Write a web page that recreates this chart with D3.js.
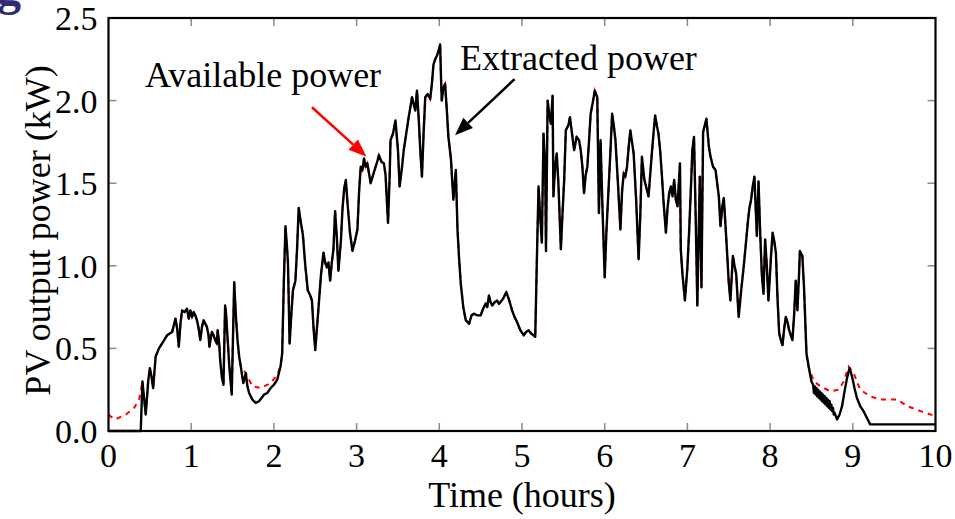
<!DOCTYPE html>
<html lang="en">
<head>
    <meta charset="UTF-8">
    <script src="https://d3js.org/d3.v7.min.js"></script>
    <title>PV output power</title>
    <style>
        body { margin: 0; background: white; }
        text { font-family: "Liberation Serif", "Times New Roman", serif; }
    </style>
</head>
<body>
<script>
    // extracted power (kW) vs time (hours)
    var extT = [0.00,0.39,0.41,0.43,0.45,0.48,0.50,0.52,0.54,0.57,0.61,0.66,0.71,0.74,0.77,0.79,0.81,0.83,0.85,0.87,
        0.89,0.92,0.95,0.97,0.99,1.01,1.03,1.05,1.07,1.09,1.11,1.13,1.15,1.17,1.19,1.21,1.22,1.25,1.27,1.29,
        1.31,1.32,1.34,1.35,1.37,1.39,1.41,1.42,1.44,1.46,1.49,1.52,1.54,1.56,1.58,1.60,1.62,1.63,1.66,1.68,
        1.70,1.74,1.78,1.82,1.88,1.92,1.96,2.00,2.04,2.08,2.10,2.12,2.14,2.16,2.17,2.19,2.21,2.23,2.26,2.28,
        2.30,2.32,2.35,2.38,2.41,2.44,2.46,2.48,2.50,2.52,2.54,2.57,2.60,2.62,2.64,2.66,2.68,2.70,2.72,2.74,
        2.76,2.78,2.81,2.83,2.85,2.87,2.89,2.92,2.95,2.98,3.01,3.03,3.05,3.07,3.09,3.11,3.13,3.15,3.17,3.20,
        3.23,3.25,3.27,3.30,3.33,3.35,3.38,3.40,3.41,3.44,3.47,3.50,3.52,3.55,3.57,3.60,3.63,3.65,3.67,3.69,
        3.71,3.73,3.75,3.77,3.79,3.81,3.83,3.86,3.89,3.91,3.93,3.95,3.97,3.99,4.01,4.02,4.03,4.05,4.07,4.09,
        4.11,4.14,4.17,4.20,4.22,4.24,4.26,4.29,4.32,4.34,4.36,4.39,4.42,4.46,4.50,4.53,4.56,4.58,4.60,4.62,
        4.64,4.67,4.70,4.72,4.74,4.77,4.81,4.84,4.88,4.91,4.94,4.98,5.02,5.05,5.08,5.11,5.14,5.16,5.18,5.20,
        5.22,5.24,5.26,5.28,5.29,5.31,5.33,5.35,5.37,5.38,5.40,5.42,5.44,5.47,5.49,5.51,5.53,5.56,5.58,5.60,
        5.63,5.66,5.69,5.71,5.73,5.75,5.77,5.79,5.81,5.83,5.86,5.88,5.91,5.93,5.95,5.97,6.00,6.02,6.04,6.07,
        6.09,6.11,6.13,6.16,6.19,6.21,6.23,6.25,6.27,6.29,6.31,6.33,6.35,6.38,6.41,6.43,6.45,6.48,6.50,6.53,
        6.55,6.57,6.59,6.61,6.63,6.65,6.67,6.69,6.71,6.74,6.76,6.78,6.80,6.82,6.84,6.86,6.88,6.91,6.92,6.94,
        6.97,7.00,7.02,7.04,7.06,7.08,7.10,7.12,7.15,7.17,7.19,7.21,7.23,7.26,7.28,7.31,7.34,7.36,7.38,7.40,
        7.42,7.44,7.46,7.48,7.50,7.52,7.55,7.57,7.59,7.62,7.65,7.68,7.71,7.73,7.75,7.77,7.79,7.81,7.84,7.86,
        7.88,7.90,7.92,7.94,7.96,7.98,8.01,8.03,8.05,8.07,8.09,8.11,8.13,8.15,8.17,8.19,8.21,8.23,8.25,8.27,
        8.29,8.31,8.33,8.35,8.36,8.39,8.41,8.43,8.44,8.47,8.50,
        8.52,8.53,8.54,8.55,8.56,8.57,8.58,8.59,8.60,8.61,8.62,8.63,8.64,8.65,8.66,8.67,8.68,8.69,8.70,8.71,
        8.72,8.73,8.74,8.75,8.76,8.77,8.78,
        8.81,8.84,8.87,8.90,8.93,8.96,8.98,9.00,9.02,9.05,9.09,9.13,9.17,9.21,10.00];
    var extP = [0.00,0.00,0.30,0.20,0.10,0.30,0.38,0.33,0.26,0.45,0.50,0.54,0.58,0.59,0.60,0.64,0.68,0.62,0.51,0.65,
        0.73,0.72,0.74,0.68,0.73,0.69,0.72,0.70,0.67,0.62,0.55,0.63,0.67,0.65,0.63,0.58,0.51,0.60,0.58,0.55,
        0.53,0.61,0.52,0.43,0.33,0.28,0.76,0.72,0.56,0.40,0.22,0.90,0.70,0.55,0.45,0.39,0.32,0.29,0.35,0.27,
        0.23,0.19,0.17,0.18,0.22,0.23,0.26,0.28,0.31,0.39,0.47,0.90,1.24,1.10,1.02,0.53,0.70,0.85,0.91,1.10,
        1.35,1.28,1.19,1.00,0.85,0.82,0.79,0.62,0.49,0.62,0.75,0.95,1.08,1.02,0.99,1.02,0.91,1.02,1.10,1.33,
        1.18,0.97,1.15,1.35,1.47,1.52,1.38,1.20,1.09,1.15,1.22,1.45,1.60,1.58,1.65,1.60,1.62,1.56,1.50,1.55,
        1.60,1.63,1.67,1.63,1.62,1.55,1.26,1.55,1.76,1.80,1.88,1.70,1.48,1.60,1.70,1.80,1.90,1.96,2.02,1.98,
        1.94,2.06,1.90,1.70,1.54,1.80,2.02,2.04,2.01,2.10,2.22,2.25,2.27,2.30,2.34,2.15,2.00,2.08,2.10,1.95,
        1.78,1.65,1.40,1.58,1.22,1.04,0.89,0.75,0.67,0.66,0.65,0.70,0.71,0.70,0.70,0.74,0.77,0.75,0.82,0.78,
        0.76,0.78,0.79,0.77,0.78,0.80,0.84,0.80,0.73,0.69,0.66,0.61,0.58,0.60,0.61,0.59,0.58,0.57,1.04,1.48,
        1.30,1.14,1.80,1.60,1.09,2.00,1.92,1.86,2.03,1.42,1.60,1.68,1.50,1.10,1.32,1.52,1.82,1.85,1.90,1.82,
        1.70,1.78,1.76,1.70,1.60,1.44,1.55,1.60,1.75,1.92,2.00,2.06,2.02,1.32,1.76,1.40,0.93,1.20,1.40,1.70,
        1.92,1.85,1.76,1.50,1.22,1.45,1.56,1.54,1.60,1.72,1.82,1.75,1.68,1.40,1.04,1.30,1.66,1.52,1.48,1.42,
        1.55,1.68,1.80,1.91,1.85,1.80,1.70,1.56,1.40,1.20,1.35,1.44,1.48,1.42,1.52,1.40,1.36,1.62,1.10,0.95,
        0.79,0.99,1.20,1.44,1.70,1.78,1.30,0.76,1.54,0.87,1.81,1.85,1.89,1.72,1.66,1.60,1.58,1.50,1.42,1.24,
        1.35,1.41,1.25,1.08,0.90,0.79,1.06,1.00,0.95,0.69,0.85,0.99,1.15,1.26,1.35,1.40,1.48,1.54,1.18,1.51,
        1.20,0.95,0.83,1.16,1.00,0.79,1.05,1.20,1.15,1.08,0.80,0.59,0.55,0.52,0.62,0.69,0.66,0.61,0.58,0.55,
        0.70,0.91,0.73,0.95,1.09,1.06,0.87,0.60,0.47,0.38,0.30,
        0.28,0.23,0.27,0.22,0.26,0.21,0.25,0.20,0.24,0.19,0.23,0.18,0.22,0.17,0.21,0.16,0.20,0.15,0.19,0.14,
        0.18,0.13,0.16,0.12,0.14,0.10,0.11,
        0.07,0.10,0.15,0.24,0.32,0.38,0.35,0.31,0.26,0.20,0.15,0.12,0.08,0.04,0.04];

    // available power where it differs from the extracted power
    var availT = [0.00,0.02,0.08,0.21,0.31,0.37,0.41,
        1.60,1.66,1.74,1.84,1.96,2.04,2.08,
        8.45,8.53,8.61,8.73,8.83,8.89,8.95,9.01,9.09,9.21,9.33,9.54,9.66,9.82,10.00];
    var availP = [0.10,0.09,0.07,0.10,0.14,0.19,0.30,
        0.39,0.35,0.27,0.26,0.29,0.34,0.39,
        0.41,0.30,0.27,0.24,0.25,0.30,0.39,0.35,0.25,0.21,0.19,0.19,0.15,0.12,0.09];
    var availGaps = [[0.00, 0.41], [1.60, 2.08], [8.45, 10.00]];

    var xTicks = [0,1,2,3,4,5,6,7,8,9,10];
    var yTicks = [0,0.5,1.0,1.5,2.0,2.5];

    var canvasWidth = 955, canvasHeight = 519;
    var margin = {left: 108.5, right: 19.5, top: 18, bottom: 88};
    var width = canvasWidth - margin.left - margin.right;
    var height = canvasHeight - margin.top - margin.bottom;

    var svg = d3.select("body").append("svg")
        .attr("width", canvasWidth)
        .attr("height", canvasHeight);

    var xScale = d3.scaleLinear().domain([0, 10]).range([0, width]);
    var yScale = d3.scaleLinear().domain([0, 2.5]).range([height, 0]);

    var g = svg.append("g")
        .attr("transform", "translate(" + margin.left + "," + margin.top + ")");

    var extData = extT.map(function(t, i) { return [t, extP[i]]; });
    var availData = extData.filter(function(d) {
        return !availGaps.some(function(r) { return d[0] >= r[0] && d[0] <= r[1]; });
    }).concat(availT.map(function(t, i) { return [t, availP[i]]; }))
      .sort(function(a, b) { return a[0] - b[0]; });

    var line = d3.line()
        .x(function(d) { return xScale(d[0]); })
        .y(function(d) { return yScale(d[1]); });

    // inward grey ticks on all four sides
    var tickLen = 8;
    var ticksG = g.append("g").attr("stroke", "#8a8a8a").attr("stroke-width", 1.5);
    xTicks.slice(1, -1).forEach(function(t) {
        ticksG.append("line").attr("x1", xScale(t)).attr("x2", xScale(t))
            .attr("y1", height).attr("y2", height - tickLen);
        ticksG.append("line").attr("x1", xScale(t)).attr("x2", xScale(t))
            .attr("y1", 0).attr("y2", tickLen);
    });
    yTicks.slice(1, -1).forEach(function(v) {
        ticksG.append("line").attr("x1", 0).attr("x2", tickLen)
            .attr("y1", yScale(v)).attr("y2", yScale(v));
        ticksG.append("line").attr("x1", width).attr("x2", width - tickLen)
            .attr("y1", yScale(v)).attr("y2", yScale(v));
    });

    g.append("path").datum(availData)
        .attr("fill", "none")
        .attr("stroke", "red")
        .attr("stroke-width", 2)
        .attr("stroke-dasharray", "5,5")
        .attr("d", line);

    g.append("path").datum(extData)
        .attr("fill", "none")
        .attr("stroke", "black")
        .attr("stroke-width", 2.4)
        .attr("stroke-linejoin", "round")
        .attr("d", line);

    // frame
    g.append("rect")
        .attr("x", 0).attr("y", 0)
        .attr("width", width).attr("height", height)
        .attr("fill", "none").attr("stroke", "black").attr("stroke-width", 2.2);

    // tick labels
    g.selectAll(".xlab").data(xTicks).enter().append("text")
        .attr("class", "xlab")
        .attr("x", function(d) { return xScale(d); })
        .attr("y", height + 36)
        .attr("text-anchor", "middle")
        .attr("font-size", 34)
        .text(function(d) { return d; });

    g.selectAll(".ylab").data(yTicks).enter().append("text")
        .attr("class", "ylab")
        .attr("x", -11)
        .attr("y", function(d) { return yScale(d) + 12; })
        .attr("text-anchor", "end")
        .attr("font-size", 34)
        .text(function(d) { return d3.format(".1f")(d); });

    // axis titles
    svg.append("text")
        .attr("x", margin.left + width / 2)
        .attr("y", 507)
        .attr("text-anchor", "middle")
        .attr("font-size", 36)
        .text("Time (hours)");

    svg.append("text")
        .attr("transform", "translate(50," + (margin.top + height / 2 + 6) + ") rotate(-90)")
        .attr("text-anchor", "middle")
        .attr("font-size", 36)
        .text("PV output power (kW)");

    // annotations
    var notes = [
        {label: "Available power", tx: 0.44, ty: 2.08, from: [2.46, 1.96], to: [3.12, 1.66], color: "red"},
        {label: "Extracted power", tx: 4.25, ty: 2.185, from: [4.91, 2.13], to: [4.19, 1.79], color: "black"}
    ];
    notes.forEach(function(n) {
        g.append("text")
            .attr("x", xScale(n.tx)).attr("y", yScale(n.ty))
            .attr("font-size", 36)
            .text(n.label);
        var x1 = xScale(n.from[0]), y1 = yScale(n.from[1]);
        var x2 = xScale(n.to[0]), y2 = yScale(n.to[1]);
        var ang = Math.atan2(y2 - y1, x2 - x1);
        var hl = 18, hw = 7;
        var bx = x2 - hl * Math.cos(ang), by = y2 - hl * Math.sin(ang);
        g.append("line")
            .attr("x1", x1).attr("y1", y1).attr("x2", bx).attr("y2", by)
            .attr("stroke", n.color).attr("stroke-width", 2.5);
        g.append("path")
            .attr("d", "M" + x2 + "," + y2 +
                "L" + (bx + hw * Math.sin(ang)) + "," + (by - hw * Math.cos(ang)) +
                "L" + (bx - hw * Math.sin(ang)) + "," + (by + hw * Math.cos(ang)) + "Z")
            .attr("fill", n.color);
    });

    // cropped panel letter from the original figure
    svg.append("text")
        .attr("x", -3).attr("y", 5)
        .attr("font-family", "Liberation Sans, Arial, sans-serif")
        .attr("font-weight", "bold")
        .attr("font-size", 48)
        .attr("fill", "#2e2b72")
        .text("g");
</script>
</body>
</html>
